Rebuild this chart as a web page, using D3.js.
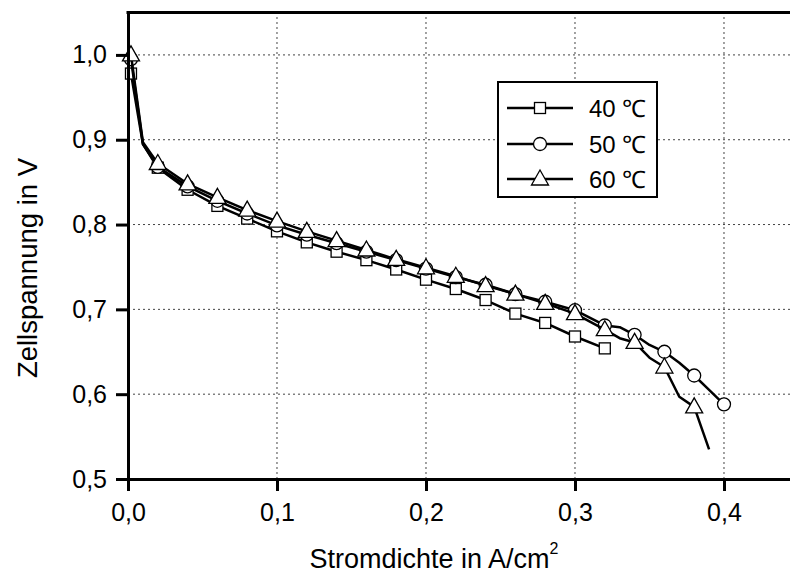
<!DOCTYPE html>
<html><head><meta charset="utf-8">
<script src="https://cdn.jsdelivr.net/npm/d3@7"></script>
<style>body{margin:0;background:#fff}svg{display:block}text{font-family:"Liberation Sans",Arial,sans-serif}</style>
</head><body><svg id="c" width="790" height="575"></svg>
<script>
// Data (x: current density A/cm², y: cell voltage V)
const xTicks = [0.0, 0.1, 0.2, 0.3, 0.4];
const yTicks = [0.5, 0.6, 0.7, 0.8, 0.9, 1.0];
const seriesNames = ["40 \u2103", "50 \u2103", "60 \u2103"];
const x40 = [0.002, 0.01, 0.02, 0.04, 0.06, 0.08, 0.10, 0.12, 0.14, 0.16, 0.18, 0.20, 0.22, 0.24, 0.26, 0.28, 0.30, 0.32];
const y40 = [0.978, 0.895, 0.867, 0.841, 0.822, 0.807, 0.792, 0.779, 0.768, 0.758, 0.747, 0.735, 0.724, 0.711, 0.695, 0.684, 0.668, 0.654];
const x50 = [0.002, 0.01, 0.02, 0.04, 0.06, 0.08, 0.10, 0.12, 0.14, 0.16, 0.18, 0.20, 0.22, 0.24, 0.26, 0.28, 0.30, 0.32, 0.33, 0.34, 0.35, 0.36, 0.37, 0.38, 0.39, 0.40];
const y50 = [0.995, 0.895, 0.868, 0.845, 0.828, 0.813, 0.799, 0.788, 0.778, 0.768, 0.758, 0.748, 0.738, 0.729, 0.718, 0.709, 0.699, 0.681, 0.679, 0.670, 0.658, 0.650, 0.637, 0.622, 0.605, 0.588];
const x60 = [0.002, 0.01, 0.02, 0.04, 0.06, 0.08, 0.10, 0.12, 0.14, 0.16, 0.18, 0.20, 0.22, 0.24, 0.26, 0.28, 0.30, 0.32, 0.33, 0.34, 0.35, 0.36, 0.37, 0.38, 0.39];
const y60 = [1.0, 0.897, 0.872, 0.848, 0.832, 0.817, 0.804, 0.792, 0.781, 0.770, 0.759, 0.749, 0.739, 0.728, 0.718, 0.707, 0.695, 0.676, 0.666, 0.661, 0.643, 0.632, 0.597, 0.585, 0.535];
const symbols = ["square", "circle", "triangle"];

const svg = d3.select("#c");
const xS = d3.scaleLinear().domain([0, 0.4443]).range([128, 790]);
const yS = d3.scaleLinear().domain([0.5, 1.05]).range([479, 12.5]);
const fmt = v => d3.format(".1f")(v).replace(".", ",");

// grid
svg.append("g").selectAll("line").data(xTicks.slice(1)).join("line")
  .attr("x1", d => xS(d)).attr("x2", d => xS(d)).attr("y1", yS(0.5)).attr("y2", yS(1.05))
  .attr("stroke", "#444").attr("stroke-width", 1).attr("stroke-dasharray", "2,3");
svg.append("g").selectAll("line").data(yTicks.slice(1)).join("line")
  .attr("y1", d => yS(d)).attr("y2", d => yS(d)).attr("x1", xS(0)).attr("x2", 790)
  .attr("stroke", "#444").attr("stroke-width", 1).attr("stroke-dasharray", "2,3");

// series
const series = [[x40, y40], [x50, y50], [x60, y60]];
const line = d3.line().x(d => xS(d[0])).y(d => yS(d[1]));
function drawSym(g, type, cx, cy) {
  if (type === "square") g.append("rect").attr("x", cx - 5.5).attr("y", cy - 5.5).attr("width", 11).attr("height", 11);
  else if (type === "circle") g.append("circle").attr("cx", cx).attr("cy", cy).attr("r", 6.5);
  else g.append("path").attr("d", `M${cx},${cy - 9}L${cx + 8.5},${cy + 6}L${cx - 8.5},${cy + 6}Z`);
}
series.forEach((s, i) => {
  const pts = s[0].map((xv, j) => [xv, s[1][j]]);
  svg.append("path").datum(pts).attr("d", line).attr("fill", "none").attr("stroke", "#000").attr("stroke-width", 2.5).attr("stroke-linejoin", "round");
  const mg = svg.append("g").attr("fill", "#fff").attr("stroke", "#000").attr("stroke-width", 1.3);
  pts.forEach(p => {
    const k = Math.round(p[0] * 1000);
    if (k < 5 || k % 20 === 0) drawSym(mg, symbols[i], xS(p[0]), yS(p[1]));
  });
});

// axes
const xAx = svg.append("g").attr("transform", `translate(0,${yS(0.5)})`)
  .call(d3.axisBottom(xS).tickValues(xTicks).tickFormat(fmt).tickSize(12).tickSizeOuter(0));
const yAx = svg.append("g").attr("transform", `translate(${xS(0)},0)`)
  .call(d3.axisLeft(yS).tickValues(yTicks).tickFormat(fmt).tickSize(12).tickSizeOuter(0));
[xAx, yAx].forEach(a => {
  a.select(".domain").attr("stroke-width", 3);
  a.selectAll(".tick line").attr("stroke-width", 3);
  a.selectAll(".tick text").attr("font-size", 25).attr("fill", "#000");
});
xAx.selectAll(".tick text").attr("dy", null).attr("y", 42);
yAx.selectAll(".tick text").attr("x", -21);
// top border
svg.append("line").attr("x1", xS(0) - 1.5).attr("x2", 790).attr("y1", yS(1.05)).attr("y2", yS(1.05)).attr("stroke", "#000").attr("stroke-width", 3);

// titles
const xt = svg.append("text").attr("x", 434).attr("y", 568).attr("text-anchor", "middle").attr("font-size", 27);
xt.append("tspan").text("Stromdichte in A/cm");
xt.append("tspan").text("2").attr("font-size", 16).attr("dy", -14);
svg.append("text").attr("transform", "translate(37,268) rotate(-90)").attr("text-anchor", "middle").attr("font-size", 27.5).text("Zellspannung in V");

// legend
const lg = svg.append("g");
lg.append("rect").attr("x", 498).attr("y", 82).attr("width", 159).attr("height", 115).attr("fill", "#fff").attr("stroke", "#000").attr("stroke-width", 2);
const rows = [108, 144, 179];
seriesNames.forEach((n, i) => {
  lg.append("line").attr("x1", 507).attr("x2", 573).attr("y1", rows[i]).attr("y2", rows[i]).attr("stroke", "#000").attr("stroke-width", 2.5);
  const mg = lg.append("g").attr("fill", "#fff").attr("stroke", "#000").attr("stroke-width", 1.3);
  drawSym(mg, symbols[i], 540, rows[i]);
  lg.append("text").attr("x", 589).attr("y", rows[i] + 9).attr("font-size", 24).text(n);
});
</script></body></html>
